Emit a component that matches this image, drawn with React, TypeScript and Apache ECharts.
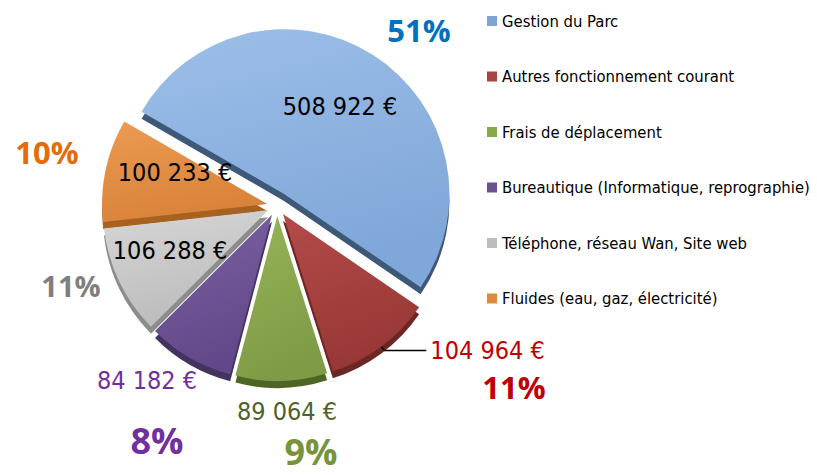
import React, { useEffect, useRef } from 'react';
import * as echarts from 'echarts';

// ---- data ----
const categories = [
  'Gestion du Parc',
  'Autres fonctionnement courant',
  'Frais de déplacement',
  'Bureautique (Informatique, reprographie)',
  'Téléphone, réseau Wan, Site web',
  'Fluides (eau, gaz, électricité)',
];
const values = [508922, 104964, 89064, 84182, 106288, 100233];

// ---- styles ----
const faceTop = ['#9dbfe9', '#b34b49', '#97b558', '#7c62a3', '#d6d6d6', '#ec9b52'];
const faceBottom = ['#80a7d9', '#983836', '#7f9b45', '#634889', '#bcbcbc', '#d9823a'];
const sideColors = ['#3e5878', '#6e2625', '#4e6526', '#44335e', '#8c8c8c', '#a8621f'];
const legendColors = ['#7fa3d3', '#a84442', '#88a84c', '#6a5190', '#bdbdbd', '#de8a3e'];
const valueColors = ['#000000', '#c00000', '#4f6228', '#7030a0', '#000000', '#000000'];
const pctColors = ['#0070c0', '#c00000', '#77933c', '#7030a0', '#7f7f7f', '#e46c0a'];

// label anchors (layout only); null = pie's own outside label with leader line
const valueAnchor: (number[] | null)[] = [[340, 106], null, [287, 411], [147, 380], [170, 250], [175, 172]];
const pctAnchor = [[419, 30], [514, 387], [311, 451], [157, 440], [71, 285], [47, 152]];
const pctSizeByIndex = [31, 31, 36, 36, 29, 31];

const CX = 277;
const CY = 206;
const R = 165;
const DEPTH = 7;
const START = 150;
const FONT = "'DejaVu Sans Condensed', 'DejaVu Sans', sans-serif";
const PFONT = "'Open Sans', 'Lato', sans-serif";
const VALUE_SIZE = 25;

const fmt = (v: number) => String(v).replace(/\B(?=(\d{3})+(?!\d))/g, ' ') + ' €';
const total = values.reduce((a, b) => a + b, 0);

function pieSeries(face: boolean, group: number[], offset: number) {
  return {
    type: 'pie',
    silent: true,
    z: face ? 3 : 2,
    center: [CX, face ? CY : CY + DEPTH],
    radius: [0, R],
    startAngle: START,
    clockwise: true,
    selectedMode: 'multiple',
    selectedOffset: offset,
    avoidLabelOverlap: false,
    emphasis: { disabled: true },
    labelLine: { show: false },
    label: { show: false },
    data: values.map((v, i) => {
      const on = group.includes(i);
      if (!on) {
        return {
          name: categories[i],
          value: v,
          itemStyle: { color: 'rgba(0,0,0,0)', borderWidth: 0 },
          label: { show: false },
          labelLine: { show: false },
        };
      }
      const item: any = {
        name: categories[i],
        value: v,
        selected: true,
        itemStyle: face
          ? {
              borderWidth: 0,
              color: new echarts.graphic.LinearGradient(0, 0, 0.3, 1, [
                { offset: 0, color: faceTop[i] },
                { offset: 1, color: faceBottom[i] },
              ]),
            }
          : { color: sideColors[i], borderWidth: 0 },
      };
      if (face && valueAnchor[i] === null) {
        item.label = {
          show: true,
          position: 'outside',
          color: valueColors[i],
          fontFamily: FONT,
          fontSize: VALUE_SIZE,
          distanceToLabelLine: 4,
          formatter: (p: any) => fmt(p.value),
        };
        item.labelLine = {
          show: true,
          length: 5,
          length2: 42,
          lineStyle: { color: '#000', width: 1.5 },
        };
      }
      return item;
    }),
  };
}

export default function App() {
  const ref = useRef<HTMLDivElement>(null);
  useEffect(() => {
    document.body.style.margin = '0';
    const chart = echarts.init(ref.current!, null, { renderer: 'svg' });
    const blue = [0];
    const rest = [1, 2, 3, 4, 5];

    const texts: any[] = [];
    values.forEach((v, i) => {
      const a = valueAnchor[i];
      if (a) {
        texts.push({
          type: 'text',
          x: a[0],
          y: a[1],
          z: 10,
          silent: true,
          style: {
            text: fmt(v),
            fill: valueColors[i],
            fontFamily: FONT,
            fontSize: VALUE_SIZE,
            align: 'center',
            verticalAlign: 'middle',
          },
        });
      }
      const p = pctAnchor[i];
      texts.push({
        type: 'text',
        x: p[0],
        y: p[1],
        z: 10,
        silent: true,
        style: {
          text: Math.round((v / total) * 100) + '%',
          fill: pctColors[i],
          fontFamily: PFONT,
          fontWeight: 'bold',
          fontSize: pctSizeByIndex[i],
          align: 'center',
          verticalAlign: 'middle',
        },
      });
    });

    chart.setOption({
      animation: false,
      backgroundColor: '#ffffff',
      legend: {
        orient: 'vertical',
        left: 482,
        top: 6,
        itemWidth: 10,
        itemHeight: 10,
        itemGap: 35.5,
        icon: 'rect',
        selectedMode: false,
        textStyle: { fontFamily: FONT, fontSize: 16.5, color: '#000', lineHeight: 20 },
        data: categories.map((n, i) => ({ name: n, itemStyle: { color: legendColors[i] } })),
      },
      graphic: texts,
      series: [
        pieSeries(true, blue, 14),
        pieSeries(true, rest, 10),
        pieSeries(false, blue, 14),
        pieSeries(false, rest, 10),
      ],
    });
    return () => chart.dispose();
  }, []);
  return <div ref={ref} style={{ width: 817, height: 475 }} />;
}
